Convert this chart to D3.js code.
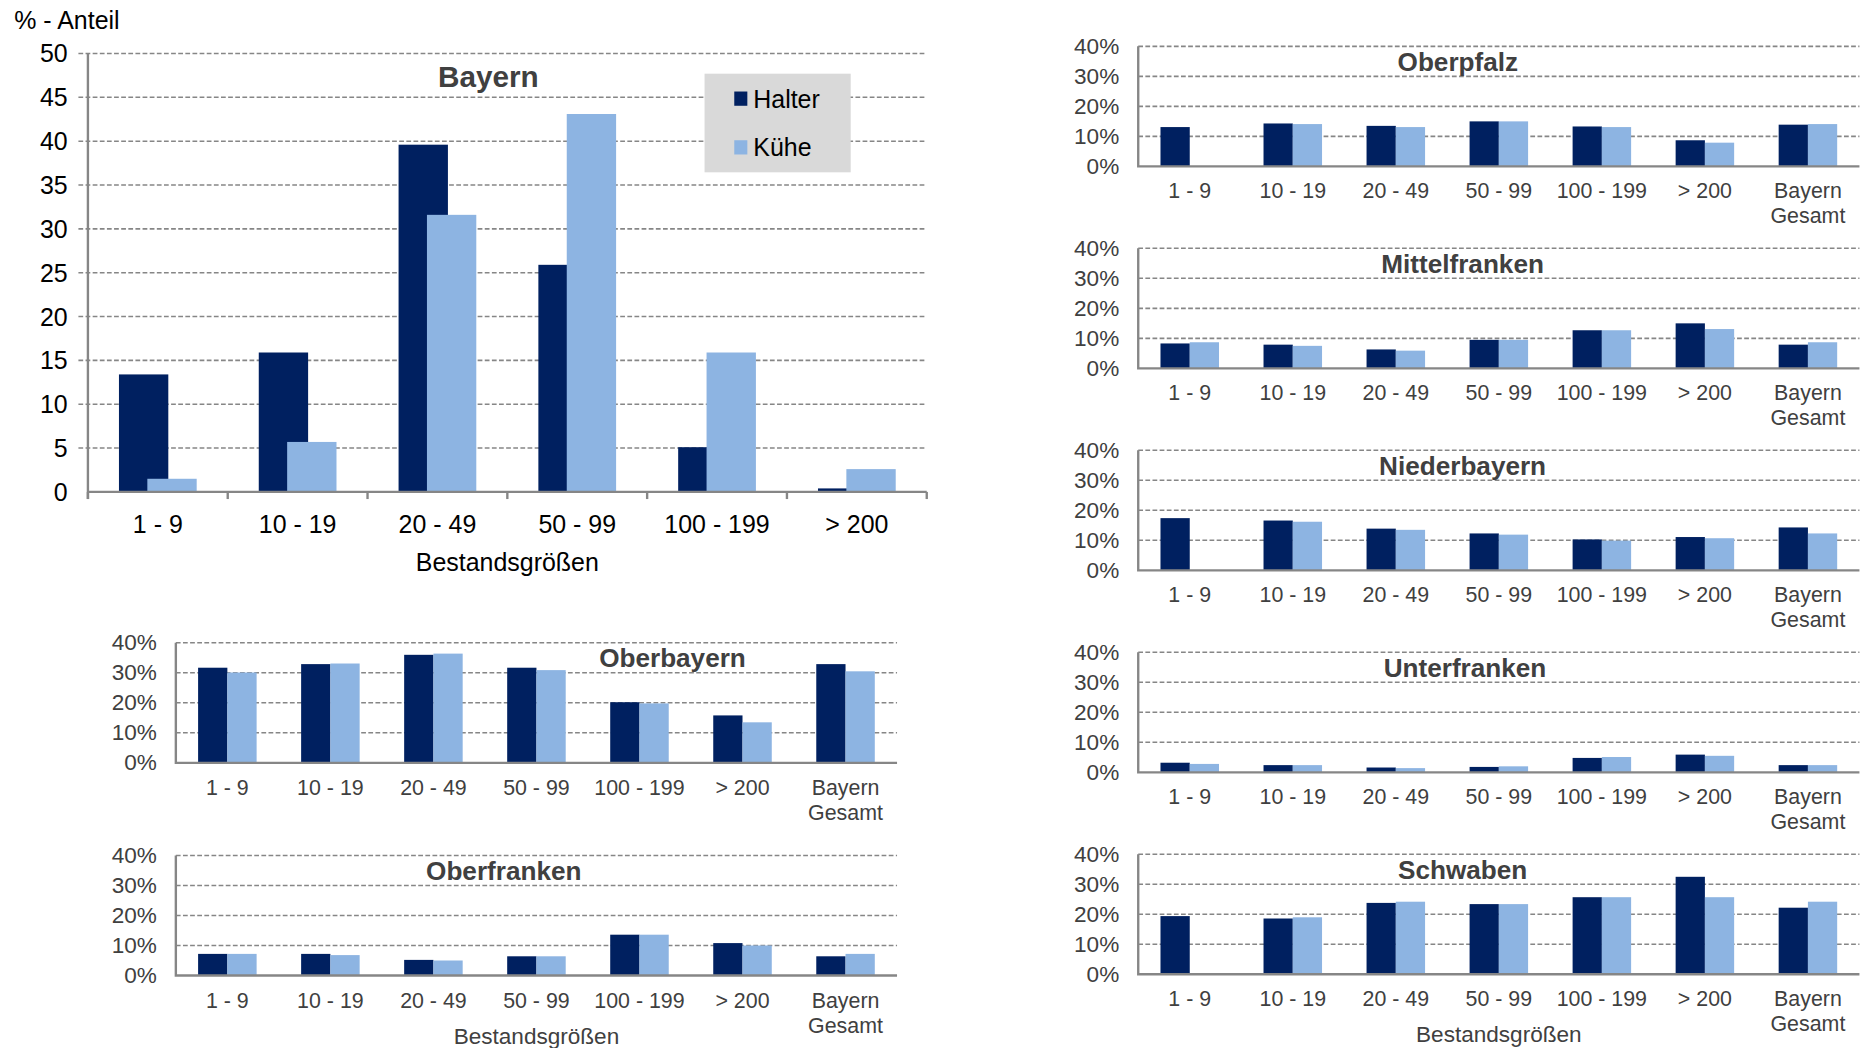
<!DOCTYPE html>
<meta charset="utf-8">
<style>
body{ margin:0; background:#fff; }
text{ font-family: "Liberation Sans", Arial, sans-serif; }
.grid line{ stroke:#868686; stroke-width:1.3px; stroke-dasharray:4,2; }
.axis{ stroke:#868686; stroke-width:2px; fill:none; }
</style>
<body>
<div id="chart"></div>
<script src="https://d3js.org/d3.v7.min.js"></script>
<script>

// Bayern main chart (% - Anteil)
var mainCats = ["1 - 9", "10 - 19", "20 - 49", "50 - 99", "100 - 199", "> 200"];
var bayernHalter = [13.4, 15.9, 39.6, 25.9, 5.1, 0.4];
var bayernKuehe  = [1.5, 5.7, 31.6, 43.1, 15.9, 2.6];
var mainTicks = [0, 5, 10, 15, 20, 25, 30, 35, 40, 45, 50];

// regions (share of Bayern)
var regionCats = ["1 - 9", "10 - 19", "20 - 49", "50 - 99", "100 - 199", "> 200", "Bayern Gesamt"];
var regionTicks = [0, 10, 20, 30, 40];

var oberbayernHalter    = [31.7, 32.9, 36.0, 31.7, 20.2, 15.8, 32.9];
var oberbayernKuehe     = [30.1, 33.1, 36.4, 30.9, 19.8, 13.5, 30.5];
var oberfrankenHalter   = [7.2, 7.2, 5.2, 6.4, 13.6, 10.8, 6.4];
var oberfrankenKuehe    = [7.2, 6.8, 5.0, 6.4, 13.6, 10.0, 7.2];
var oberpfalzHalter     = [13.1, 14.3, 13.5, 15.0, 13.3, 8.7, 13.9];
var oberpfalzKuehe      = [0, 14.1, 13.1, 15.0, 13.1, 7.9, 14.1];
var mittelfrankenHalter = [8.3, 7.9, 6.3, 9.5, 12.7, 15.0, 7.9];
var mittelfrankenKuehe  = [8.7, 7.5, 5.9, 9.5, 12.7, 13.1, 8.7];
var niederbayernHalter  = [17.4, 16.6, 13.9, 12.3, 10.3, 11.1, 14.3];
var niederbayernKuehe   = [0, 16.2, 13.5, 11.9, 9.9, 10.7, 12.3];
var unterfrankenHalter  = [3.2, 2.4, 1.6, 1.8, 4.8, 5.9, 2.4];
var unterfrankenKuehe   = [2.8, 2.4, 1.4, 2.0, 5.1, 5.5, 2.4];
var schwabenHalter      = [19.4, 18.6, 23.8, 23.4, 25.7, 32.5, 22.2];
var schwabenKuehe       = [0, 19.0, 24.2, 23.4, 25.7, 25.7, 24.2];

var DARK = "#002060", LIGHT = "#8db4e2";

var svg = d3.select("#chart").append("svg")
    .attr("width", 1863).attr("height", 1048)
    .attr("viewBox", "0 0 1568 882");

// ---------- main chart ----------
var m = {left: 74, right: 780, top: 45, bottom: 414};
var x = d3.scaleBand().domain(mainCats).range([m.left, m.right]);
var y = d3.scaleLinear().domain([0, 50]).range([m.bottom, m.top]);

svg.append("g").attr("class", "grid")
  .selectAll("line").data(mainTicks.slice(1)).enter().append("line")
    .attr("x1", m.left - 8).attr("x2", m.right)
    .attr("y1", function(d){ return y(d); }).attr("y2", function(d){ return y(d); });

svg.append("g").selectAll("text").data(mainTicks).enter().append("text")
    .attr("x", m.left - 17).attr("y", function(d){ return y(d); })
    .attr("text-anchor", "end").attr("dominant-baseline", "central")
    .attr("font-size", 21).attr("fill", "#000").text(function(d){ return d; });

svg.append("text").attr("x", 12).attr("y", 17).attr("dominant-baseline", "central")
    .attr("font-size", 21).text("% - Anteil");

var bw = x.bandwidth();
svg.append("g").selectAll("rect").data(bayernHalter).enter().append("rect")
    .attr("x", function(d, i){ return x(mainCats[i]) + bw * 0.222; })
    .attr("width", bw * 0.353)
    .attr("y", function(d){ return y(d); })
    .attr("height", function(d){ return y(0) - y(d); })
    .attr("fill", DARK);
svg.append("g").selectAll("rect").data(bayernKuehe).enter().append("rect")
    .attr("x", function(d, i){ return x(mainCats[i]) + bw * 0.425; })
    .attr("width", bw * 0.353)
    .attr("y", function(d){ return y(d); })
    .attr("height", function(d){ return y(0) - y(d); })
    .attr("fill", LIGHT);

svg.append("path").attr("class", "axis")
    .attr("d", "M" + m.left + "," + m.top + "V" + (m.bottom + 6) + "M" + m.left + "," + m.bottom + "H" + m.right);
svg.append("g").selectAll("line").data(mainCats.concat(["end"])).enter().append("line")
    .attr("class", "axis")
    .attr("x1", function(d, i){ return m.left + i * bw; })
    .attr("x2", function(d, i){ return m.left + i * bw; })
    .attr("y1", m.bottom).attr("y2", m.bottom + 6);

svg.append("g").selectAll("text").data(mainCats).enter().append("text")
    .attr("x", function(d){ return x(d) + bw / 2; }).attr("y", m.bottom + 27)
    .attr("text-anchor", "middle").attr("dominant-baseline", "central")
    .attr("font-size", 21).text(function(d){ return d; });

svg.append("text").attr("x", (m.left + m.right) / 2).attr("y", 473)
    .attr("text-anchor", "middle").attr("dominant-baseline", "central")
    .attr("font-size", 21).text("Bestandsgrößen");

svg.append("text").attr("x", 411).attr("y", 64)
    .attr("text-anchor", "middle").attr("dominant-baseline", "central")
    .attr("font-size", 25).attr("font-weight", "bold").attr("fill", "#404040").text("Bayern");

// legend
var lg = svg.append("g");
lg.append("rect").attr("x", 593).attr("y", 62).attr("width", 123).attr("height", 83).attr("fill", "#d9d9d9");
[["Halter", DARK, 83], ["Kühe", LIGHT, 124]].forEach(function(l){
  lg.append("rect").attr("x", 618).attr("y", l[2] - 6).attr("width", 11).attr("height", 12).attr("fill", l[1]);
  lg.append("text").attr("x", 634).attr("y", l[2]).attr("dominant-baseline", "central")
    .attr("font-size", 21).text(l[0]);
});

// ---------- regional charts ----------
var panels = [
  {name: "Oberbayern",    halter: oberbayernHalter,    kuehe: oberbayernKuehe,    x0: 148, top: 541, titleX: 566,  xlabel: false},
  {name: "Oberfranken",   halter: oberfrankenHalter,   kuehe: oberfrankenKuehe,   x0: 148, top: 720, titleX: 424,  xlabel: true},
  {name: "Oberpfalz",     halter: oberpfalzHalter,     kuehe: oberpfalzKuehe,     x0: 958, top: 39,  titleX: 1227, xlabel: false},
  {name: "Mittelfranken", halter: mittelfrankenHalter, kuehe: mittelfrankenKuehe, x0: 958, top: 209, titleX: 1231, xlabel: false},
  {name: "Niederbayern",  halter: niederbayernHalter,  kuehe: niederbayernKuehe,  x0: 958, top: 379, titleX: 1231, xlabel: false},
  {name: "Unterfranken",  halter: unterfrankenHalter,  kuehe: unterfrankenKuehe,  x0: 958, top: 549, titleX: 1233, xlabel: false},
  {name: "Schwaben",      halter: schwabenHalter,      kuehe: schwabenKuehe,      x0: 958, top: 719, titleX: 1231, xlabel: true}
];

panels.forEach(function(p){
  var pw = 607, ph = 101;
  var g = svg.append("g");
  var px = d3.scaleBand().domain(regionCats).range([p.x0, p.x0 + pw]);
  var py = d3.scaleLinear().domain([0, 40]).range([p.top + ph, p.top]);
  var b = px.bandwidth();

  g.append("g").attr("class", "grid").selectAll("line").data(regionTicks.slice(1)).enter().append("line")
    .attr("x1", p.x0).attr("x2", p.x0 + pw)
    .attr("y1", function(d){ return py(d); }).attr("y2", function(d){ return py(d); });

  g.append("g").selectAll("text").data(regionTicks).enter().append("text")
    .attr("x", p.x0 - 16).attr("y", function(d){ return py(d); })
    .attr("text-anchor", "end").attr("dominant-baseline", "central")
    .attr("font-size", 19).attr("fill", "#404040").text(function(d){ return d + "%"; });

  g.append("text").attr("x", p.titleX).attr("y", p.top + 13)
    .attr("text-anchor", "middle").attr("dominant-baseline", "central")
    .attr("font-size", 22).attr("font-weight", "bold").attr("fill", "#404040").text(p.name);

  g.append("g").selectAll("rect").data(p.halter).enter().append("rect")
    .attr("x", function(d, i){ return px(regionCats[i]) + b * 0.216; })
    .attr("width", b * 0.284)
    .attr("y", function(d){ return py(d); })
    .attr("height", function(d){ return py(0) - py(d); })
    .attr("fill", DARK);
  g.append("g").selectAll("rect").data(p.kuehe).enter().append("rect")
    .attr("x", function(d, i){ return px(regionCats[i]) + b * 0.5; })
    .attr("width", b * 0.284)
    .attr("y", function(d){ return py(d); })
    .attr("height", function(d){ return py(0) - py(d); })
    .attr("fill", LIGHT);

  g.append("path").attr("class", "axis")
    .attr("d", "M" + p.x0 + "," + p.top + "V" + (p.top + ph) + "H" + (p.x0 + pw));

  var lab = g.append("g").selectAll("text").data(regionCats).enter().append("text")
    .attr("x", function(d){ return px(d) + b / 2; })
    .attr("text-anchor", "middle")
    .attr("font-size", 18).attr("fill", "#404040");
  lab.each(function(d){
    var t = d3.select(this);
    var parts = d === "Bayern Gesamt" ? ["Bayern", "Gesamt"] : [d];
    parts.forEach(function(s, k){
      t.append("tspan").attr("x", px(d) + b / 2).attr("y", p.top + ph + 27 + k * 21).text(s);
    });
  });

  if (p.xlabel) {
    g.append("text").attr("x", p.x0 + pw / 2).attr("y", p.top + ph + 51)
      .attr("text-anchor", "middle").attr("dominant-baseline", "central")
      .attr("font-size", 19).attr("fill", "#404040").text("Bestandsgrößen");
  }
});

</script>
</body>
